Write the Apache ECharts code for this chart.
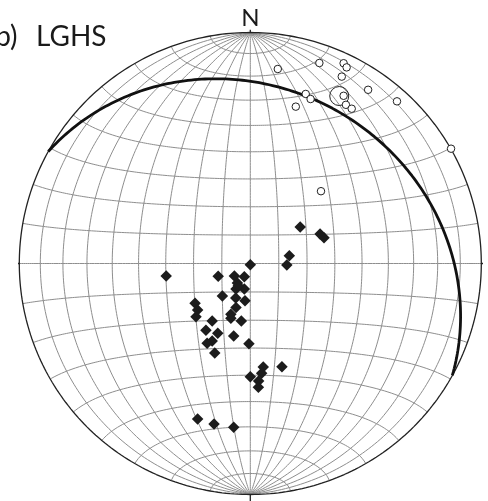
<!DOCTYPE html>
<html>
<head>
<meta charset="utf-8">
<script src="https://cdn.jsdelivr.net/npm/echarts@6/dist/echarts.min.js"></script>
<style>html,body{margin:0;padding:0;background:#fff;}#c{width:488px;height:501px;}</style>
</head>
<body>
<div id="c"></div>
<script>
// Net coordinates (equal-area, lower hemisphere), unit radius, x = East, y = North
const openCircles = [
  [0.119,0.842],[0.299,0.868],[0.404,0.867],[0.417,0.849],[0.396,0.809],
  [0.510,0.752],[0.240,0.734],[0.261,0.712],[0.197,0.679],[0.404,0.726],
  [0.414,0.687],[0.439,0.670],[0.635,0.702],[0.869,0.497],[0.306,0.313]
];
const meanCircle = [[0.385,0.725]];
const diamonds = [
  [0.216,0.158],[0.302,0.128],[0.319,0.112],[0.169,0.034],[0.158,-0.006],
  [0.000,-0.005],[-0.364,-0.054],[-0.139,-0.055],[-0.069,-0.054],[-0.026,-0.057],
  [-0.056,-0.084],[-0.026,-0.110],[-0.062,-0.110],[-0.121,-0.141],[-0.063,-0.149],
  [-0.023,-0.161],[-0.239,-0.172],[-0.062,-0.191],[-0.228,-0.201],[-0.235,-0.230],
  [-0.084,-0.220],[-0.084,-0.237],[-0.039,-0.249],[-0.165,-0.249],[-0.192,-0.289],
  [-0.141,-0.302],[-0.072,-0.314],[-0.165,-0.335],[-0.187,-0.345],[-0.006,-0.347],
  [-0.154,-0.387],[0.137,-0.447],[0.056,-0.448],[0.049,-0.475],[0.000,-0.490],
  [0.036,-0.509],[0.035,-0.536],[-0.228,-0.673],[-0.157,-0.695],[-0.072,-0.709],
  [-0.052,-0.096]
];
// Plane drawn as great circle: dip direction, dip (degrees)
const planeDipDir = 29;
const planeDip = 25;
const netStep = 10;
const titlePrefix = 'b)';
const titleName = 'LGHS';
const northLabel = 'N';

const D = Math.PI/180;
function projVec(x,y,z){ if(z>0){x=-x;y=-y;z=-z;} const k=1/Math.sqrt(1-z); return [x*k,y*k]; }
function greatCircle(dd, dip){
  const st=(dd-90)*D, s=[Math.sin(st),Math.cos(st),0];
  const d=[Math.sin(dd*D)*Math.cos(dip*D),Math.cos(dd*D)*Math.cos(dip*D),-Math.sin(dip*D)];
  const pts=[];
  for(let i=0;i<=180;i++){const t=i*D;const c=Math.cos(t),sn=Math.sin(t);
    pts.push(projVec(c*s[0]+sn*d[0],c*s[1]+sn*d[1],c*s[2]+sn*d[2]));}
  return pts;
}
function smallCircle(a){
  const pts=[];
  for(let i=0;i<=180;i++){const t=i*D;
    pts.push(projVec(Math.sin(a*D)*Math.cos(t),Math.cos(a*D),-Math.sin(a*D)*Math.sin(t)));}
  return pts;
}
const netStyle={color:'#8e8e8e',width:1};
const series=[];
function addLine(data,style,z){
  series.push({type:'line',data:data,showSymbol:false,symbol:'none',silent:true,clip:false,
    lineStyle:style,z:z||1,animation:false});
}
for(let dip=netStep;dip<=90;dip+=netStep){
  addLine(greatCircle(90,dip),netStyle);
  if(dip<90) addLine(greatCircle(270,dip),netStyle);
}
for(let a=netStep;a<180;a+=netStep){ addLine(smallCircle(a),netStyle); }
// primitive
const prim=[];for(let i=0;i<=360;i++){prim.push([Math.cos(i*D),Math.sin(i*D)]);}
addLine(prim,{color:'#222',width:1.3},3);
// ticks
const tk={color:'#222',width:1.3};
addLine([[-1,0],[-1.017,0]],tk,3);
addLine([[1,0],[1.015,0]],tk,3);
addLine([[0,1],[0,1.012]],tk,3);
addLine([[0,-1],[0,-1.035]],tk,3);
// plane
addLine(greatCircle(planeDipDir,planeDip),{color:'#111',width:2.8},4);

series.push({type:'scatter',data:meanCircle,symbol:'circle',symbolSize:19,clip:false,silent:true,z:5,
  itemStyle:{color:'rgba(255,255,255,0)',borderColor:'#222',borderWidth:1,opacity:1}});
series.push({type:'scatter',data:openCircles,symbol:'circle',symbolSize:7.5,clip:false,silent:true,z:6,
  itemStyle:{color:'#fff',borderColor:'#222',borderWidth:1,opacity:1}});
series.push({type:'scatter',data:diamonds,symbol:'diamond',symbolSize:11.5,clip:false,silent:true,z:6,
  itemStyle:{color:'#1c1c1c',opacity:1}});

const chart=echarts.init(document.getElementById('c'),null,{renderer:'canvas'});
chart.setOption({
  backgroundColor:'#fff',
  animation:false,
  grid:{left:19.3,top:32.5,width:462,height:462},
  xAxis:{type:'value',min:-1,max:1,show:false},
  yAxis:{type:'value',min:-1,max:1,show:false},
  graphic:[
    {type:'text',x:17.5,y:37,style:{text:titlePrefix,fontFamily:'Lato',fontSize:28,fill:'#1a1a1a',align:'right',verticalAlign:'middle'}},
    {type:'text',x:36,y:37,style:{text:titleName,fontFamily:'Lato',fontSize:28,fill:'#1a1a1a',align:'left',verticalAlign:'middle'}},
    {type:'text',x:250.3,y:18.5,style:{text:northLabel,fontFamily:'Lato',fontSize:24,fill:'#1a1a1a',align:'center',verticalAlign:'middle'}}
  ],
  series:series
});
</script>
</body>
</html>
